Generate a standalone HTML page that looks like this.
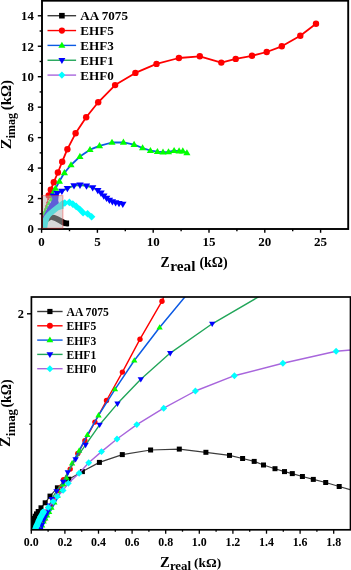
<!DOCTYPE html>
<html><head><meta charset="utf-8"><style>
html,body{margin:0;padding:0;background:#fff;width:351px;height:570px;overflow:hidden}
svg{display:block;will-change:transform}
</style></head><body>
<svg width="351" height="570" viewBox="0 0 351 570">
<defs>
<clipPath id="ct"><rect x="42" y="0.7" width="306.2" height="228.3"/></clipPath>
<clipPath id="cb"><rect x="31.4" y="297" width="319.1" height="232.79999999999995"/></clipPath>
</defs>
<rect width="100%" height="100%" fill="#fff"/>
<g clip-path="url(#ct)"><polygon fill="#000" points="47.5,216.5 48.1,215.6 51.1,214.5 54.8,214.9 58.5,216.4 62.2,218.6 66,220.5 68.6,221.5 68.6,226.4 66,226.2 62.2,225.2 58.5,223 54.8,220.9 51.1,219.8 48.5,221.5 47.5,222"/>
<rect x="63.5" y="220.5" width="5.6" height="5.6" fill="#000"/>
<polyline fill="none" stroke="#ff0000" stroke-width="0.9" stroke-linejoin="round" stroke-linecap="butt" points="42.6,228.5 42.8,222 43.5,216.5 44.3,212.6 45.2,209.3 46.2,205.9 47.2,202.5 48.2,199.2 48.9,195.4"/>
<circle cx="43.5" cy="216.5" r="1" fill="#ff0000"/>
<circle cx="44.3" cy="212.6" r="1" fill="#ff0000"/>
<circle cx="45.2" cy="209.3" r="1" fill="#ff0000"/>
<circle cx="46.2" cy="205.9" r="1" fill="#ff0000"/>
<circle cx="47.2" cy="202.5" r="1" fill="#ff0000"/>
<circle cx="48.2" cy="199.2" r="1" fill="#ff0000"/>
<polyline fill="none" stroke="#ff0000" stroke-width="1.8" stroke-linejoin="round" stroke-linecap="butt" points="48.7,195.4 50.8,189.8 53.8,182.2 57.9,172.5 62.2,161.7 67.4,149.2 75.6,133.3 86.2,117.2 98.2,102.3 115.1,85.1 135.4,72.9 156.5,63.9 178.9,58 199.8,56.3 221.3,62.6 235.7,58.9 252,55.8 266.7,52 281.8,46.3 300.3,35.7 316,23.8"/>
<circle cx="48.7" cy="195.4" r="3.2" fill="#ff0000"/>
<circle cx="50.8" cy="189.8" r="3.2" fill="#ff0000"/>
<circle cx="53.8" cy="182.2" r="3.2" fill="#ff0000"/>
<circle cx="57.9" cy="172.5" r="3.2" fill="#ff0000"/>
<circle cx="62.2" cy="161.7" r="3.2" fill="#ff0000"/>
<circle cx="67.4" cy="149.2" r="3.2" fill="#ff0000"/>
<circle cx="75.6" cy="133.3" r="3.2" fill="#ff0000"/>
<circle cx="86.2" cy="117.2" r="3.2" fill="#ff0000"/>
<circle cx="98.2" cy="102.3" r="3.2" fill="#ff0000"/>
<circle cx="115.1" cy="85.1" r="3.2" fill="#ff0000"/>
<circle cx="135.4" cy="72.9" r="3.2" fill="#ff0000"/>
<circle cx="156.5" cy="63.9" r="3.2" fill="#ff0000"/>
<circle cx="178.9" cy="58" r="3.2" fill="#ff0000"/>
<circle cx="199.8" cy="56.3" r="3.2" fill="#ff0000"/>
<circle cx="221.3" cy="62.6" r="3.2" fill="#ff0000"/>
<circle cx="235.7" cy="58.9" r="3.2" fill="#ff0000"/>
<circle cx="252" cy="55.8" r="3.2" fill="#ff0000"/>
<circle cx="266.7" cy="52" r="3.2" fill="#ff0000"/>
<circle cx="281.8" cy="46.3" r="3.2" fill="#ff0000"/>
<circle cx="300.3" cy="35.7" r="3.2" fill="#ff0000"/>
<circle cx="316" cy="23.8" r="3.2" fill="#ff0000"/>
<polyline fill="none" stroke="#0c5ae4" stroke-width="1.8" stroke-linejoin="round" stroke-linecap="butt" points="52.2,200.2 52.5,194.1 55.5,188.5 59.4,181.3 64.4,172.8 71,165 79.9,156.6 90,149.7 99.5,145.9 112,142.5 123.4,142.3 134.1,144.6 142.6,148 150.4,150.7 157.4,151.7 163,152.2 168.5,152 174.1,150.7 179.1,151.1 182.8,151.1 186.9,153"/>
<polygon points="44.3,210.86 41.7,215.28 46.9,215.28" fill="#00ff00"/>
<polygon points="45.5,207.96 42.9,212.38 48.1,212.38" fill="#00ff00"/>
<polygon points="47,204.56 44.4,208.98 49.6,208.98" fill="#00ff00"/>
<polygon points="48.8,200.86 46.2,205.28 51.4,205.28" fill="#00ff00"/>
<polygon points="51.4,196.44 48.4,201.54 54.4,201.54" fill="#00ff00"/>
<polygon points="52.5,190.31 48.9,196.43 56.1,196.43" fill="#00ff00"/>
<polygon points="55.5,184.71 51.9,190.83 59.1,190.83" fill="#00ff00"/>
<polygon points="59.4,177.51 55.8,183.63 63,183.63" fill="#00ff00"/>
<polygon points="64.4,169.01 60.8,175.13 68,175.13" fill="#00ff00"/>
<polygon points="71,161.21 67.4,167.33 74.6,167.33" fill="#00ff00"/>
<polygon points="79.9,152.81 76.3,158.93 83.5,158.93" fill="#00ff00"/>
<polygon points="90,145.91 86.4,152.03 93.6,152.03" fill="#00ff00"/>
<polygon points="99.5,142.11 95.9,148.23 103.1,148.23" fill="#00ff00"/>
<polygon points="112,138.71 108.4,144.83 115.6,144.83" fill="#00ff00"/>
<polygon points="123.4,138.51 119.8,144.63 127,144.63" fill="#00ff00"/>
<polygon points="134.1,140.81 130.5,146.93 137.7,146.93" fill="#00ff00"/>
<polygon points="142.6,144.21 139,150.33 146.2,150.33" fill="#00ff00"/>
<polygon points="150.4,146.91 146.8,153.03 154,153.03" fill="#00ff00"/>
<polygon points="157.4,147.91 153.8,154.03 161,154.03" fill="#00ff00"/>
<polygon points="163,148.41 159.4,154.53 166.6,154.53" fill="#00ff00"/>
<polygon points="168.5,148.21 164.9,154.33 172.1,154.33" fill="#00ff00"/>
<polygon points="174.1,146.91 170.5,153.03 177.7,153.03" fill="#00ff00"/>
<polygon points="179.1,147.31 175.5,153.43 182.7,153.43" fill="#00ff00"/>
<polygon points="182.8,147.31 179.2,153.43 186.4,153.43" fill="#00ff00"/>
<polygon points="186.9,149.21 183.3,155.33 190.5,155.33" fill="#00ff00"/>
<polygon fill="#0000ff" points="42.8,228.5 42.7,220 43.4,216.2 44.8,213.3 46.4,210 48.2,206.6 50.4,202.9 53.5,197.3 54.3,195.2 56.5,193.6 58.8,194.5 58.6,197 58.2,200.5 59,203.5 56,207 51,210.5 47.4,213 44.4,216.5 43.5,220 43.5,228.5"/>
<polyline fill="none" stroke="#22a65a" stroke-width="1.8" stroke-linejoin="round" stroke-linecap="butt" points="53.2,196 57.2,193.3 61.9,191.1 67.4,188.3 74,185.6 80,185 86.5,185.8 92.7,187.7 97.8,190.3 101,193 103.8,195.8 106.6,198.2 109.4,200.2 112.4,201.7 115.6,202.7 119,203.4 122.8,204.1"/><polygon points="53.2,199.9 49.5,193.61 56.9,193.61" fill="#0000ff"/><polygon points="57.2,197.2 53.5,190.91 60.9,190.91" fill="#0000ff"/><polygon points="61.9,195 58.2,188.71 65.6,188.71" fill="#0000ff"/><polygon points="67.4,192.2 63.7,185.91 71.1,185.91" fill="#0000ff"/><polygon points="74,189.5 70.3,183.21 77.7,183.21" fill="#0000ff"/><polygon points="80,188.9 76.3,182.61 83.7,182.61" fill="#0000ff"/><polygon points="86.5,189.7 82.8,183.41 90.2,183.41" fill="#0000ff"/><polygon points="92.7,191.6 89,185.31 96.4,185.31" fill="#0000ff"/><polygon points="97.8,194.2 94.1,187.91 101.5,187.91" fill="#0000ff"/><polygon points="101,196.9 97.3,190.61 104.7,190.61" fill="#0000ff"/><polygon points="103.8,199.7 100.1,193.41 107.5,193.41" fill="#0000ff"/><polygon points="106.6,202.1 102.9,195.81 110.3,195.81" fill="#0000ff"/><polygon points="109.4,204.1 105.7,197.81 113.1,197.81" fill="#0000ff"/><polygon points="112.4,205.6 108.7,199.31 116.1,199.31" fill="#0000ff"/><polygon points="115.6,206.6 111.9,200.31 119.3,200.31" fill="#0000ff"/><polygon points="119,207.3 115.3,201.01 122.7,201.01" fill="#0000ff"/><polygon points="122.8,208 119.1,201.71 126.5,201.71" fill="#0000ff"/>
<polygon fill="#00ffff" points="42.6,229 42.4,223.6 43,218.4 44.6,215.5 47.8,212 51.5,208.8 55.3,205.8 59,203 62.5,200.4 63.5,200.1 63.5,208.7 62.2,208.9 58.5,210.3 54.8,213.2 51.1,216.2 49.5,218.6 48.2,222.1 47.5,225.9 47.2,229"/>
<polyline fill="none" stroke="#a866dc" stroke-width="1.8" stroke-linejoin="round" stroke-linecap="butt" points="62.2,204 64.8,203 69.4,202.4 72.8,204.1 76.2,206.4 79.7,209.2 83.1,212.7 87.6,213.8 91.6,216.7"/><polygon points="62.2,200.2 66,204 62.2,207.8 58.4,204" fill="#00ffff"/><polygon points="64.8,199.2 68.6,203 64.8,206.8 61,203" fill="#00ffff"/><polygon points="69.4,198.6 73.2,202.4 69.4,206.2 65.6,202.4" fill="#00ffff"/><polygon points="72.8,200.3 76.6,204.1 72.8,207.9 69,204.1" fill="#00ffff"/><polygon points="76.2,202.6 80,206.4 76.2,210.2 72.4,206.4" fill="#00ffff"/><polygon points="79.7,205.4 83.5,209.2 79.7,213 75.9,209.2" fill="#00ffff"/><polygon points="83.1,208.9 86.9,212.7 83.1,216.5 79.3,212.7" fill="#00ffff"/><polygon points="87.6,210 91.4,213.8 87.6,217.6 83.8,213.8" fill="#00ffff"/><polygon points="91.6,212.9 95.4,216.7 91.6,220.5 87.8,216.7" fill="#00ffff"/></g>
<rect x="42" y="195.6" width="20.9" height="32.6" fill="rgb(180,180,180)" fill-opacity="0.52"/>
<rect x="42" y="0.7" width="306.2" height="228.3" fill="none" stroke="#000" stroke-width="1.9"/>
<rect x="42" y="195.6" width="20.9" height="32.6" fill="none" stroke="#ff3030" stroke-opacity="0.45" stroke-width="1"/>
<line x1="37.8" y1="229" x2="42" y2="229" stroke="#000" stroke-width="1.4"/>
<text x="33.8" y="233.3" text-anchor="end" font-size="12.8" font-weight="bold" font-family='"Liberation Serif", serif'>0</text>
<line x1="39.6" y1="213.77" x2="42" y2="213.77" stroke="#000" stroke-width="1.4"/>
<line x1="37.8" y1="198.54" x2="42" y2="198.54" stroke="#000" stroke-width="1.4"/>
<text x="33.8" y="202.84" text-anchor="end" font-size="12.8" font-weight="bold" font-family='"Liberation Serif", serif'>2</text>
<line x1="39.6" y1="183.31" x2="42" y2="183.31" stroke="#000" stroke-width="1.4"/>
<line x1="37.8" y1="168.08" x2="42" y2="168.08" stroke="#000" stroke-width="1.4"/>
<text x="33.8" y="172.38" text-anchor="end" font-size="12.8" font-weight="bold" font-family='"Liberation Serif", serif'>4</text>
<line x1="39.6" y1="152.85" x2="42" y2="152.85" stroke="#000" stroke-width="1.4"/>
<line x1="37.8" y1="137.62" x2="42" y2="137.62" stroke="#000" stroke-width="1.4"/>
<text x="33.8" y="141.92" text-anchor="end" font-size="12.8" font-weight="bold" font-family='"Liberation Serif", serif'>6</text>
<line x1="39.6" y1="122.39" x2="42" y2="122.39" stroke="#000" stroke-width="1.4"/>
<line x1="37.8" y1="107.16" x2="42" y2="107.16" stroke="#000" stroke-width="1.4"/>
<text x="33.8" y="111.46" text-anchor="end" font-size="12.8" font-weight="bold" font-family='"Liberation Serif", serif'>8</text>
<line x1="39.6" y1="91.93" x2="42" y2="91.93" stroke="#000" stroke-width="1.4"/>
<line x1="37.8" y1="76.7" x2="42" y2="76.7" stroke="#000" stroke-width="1.4"/>
<text x="33.8" y="81" text-anchor="end" font-size="12.8" font-weight="bold" font-family='"Liberation Serif", serif'>10</text>
<line x1="39.6" y1="61.47" x2="42" y2="61.47" stroke="#000" stroke-width="1.4"/>
<line x1="37.8" y1="46.24" x2="42" y2="46.24" stroke="#000" stroke-width="1.4"/>
<text x="33.8" y="50.54" text-anchor="end" font-size="12.8" font-weight="bold" font-family='"Liberation Serif", serif'>12</text>
<line x1="39.6" y1="31.01" x2="42" y2="31.01" stroke="#000" stroke-width="1.4"/>
<line x1="37.8" y1="15.78" x2="42" y2="15.78" stroke="#000" stroke-width="1.4"/>
<text x="33.8" y="20.08" text-anchor="end" font-size="12.8" font-weight="bold" font-family='"Liberation Serif", serif'>14</text>
<line x1="41.6" y1="229" x2="41.6" y2="232.8" stroke="#000" stroke-width="1.4"/>
<text x="41.6" y="245.9" text-anchor="middle" font-size="13" font-weight="bold" font-family='"Liberation Serif", serif'>0</text>
<line x1="69.5" y1="229" x2="69.5" y2="231.2" stroke="#000" stroke-width="1.4"/>
<line x1="97.4" y1="229" x2="97.4" y2="232.8" stroke="#000" stroke-width="1.4"/>
<text x="97.4" y="245.9" text-anchor="middle" font-size="13" font-weight="bold" font-family='"Liberation Serif", serif'>5</text>
<line x1="125.3" y1="229" x2="125.3" y2="231.2" stroke="#000" stroke-width="1.4"/>
<line x1="153.2" y1="229" x2="153.2" y2="232.8" stroke="#000" stroke-width="1.4"/>
<text x="153.2" y="245.9" text-anchor="middle" font-size="13" font-weight="bold" font-family='"Liberation Serif", serif'>10</text>
<line x1="181.1" y1="229" x2="181.1" y2="231.2" stroke="#000" stroke-width="1.4"/>
<line x1="209" y1="229" x2="209" y2="232.8" stroke="#000" stroke-width="1.4"/>
<text x="209" y="245.9" text-anchor="middle" font-size="13" font-weight="bold" font-family='"Liberation Serif", serif'>15</text>
<line x1="236.9" y1="229" x2="236.9" y2="231.2" stroke="#000" stroke-width="1.4"/>
<line x1="264.8" y1="229" x2="264.8" y2="232.8" stroke="#000" stroke-width="1.4"/>
<text x="264.8" y="245.9" text-anchor="middle" font-size="13" font-weight="bold" font-family='"Liberation Serif", serif'>20</text>
<line x1="292.7" y1="229" x2="292.7" y2="231.2" stroke="#000" stroke-width="1.4"/>
<line x1="320.6" y1="229" x2="320.6" y2="232.8" stroke="#000" stroke-width="1.4"/>
<text x="320.6" y="245.9" text-anchor="middle" font-size="13" font-weight="bold" font-family='"Liberation Serif", serif'>25</text>
<line x1="47.5" y1="15.7" x2="76.1" y2="15.7" stroke="#3c3c3c" stroke-width="1.4"/>
<rect x="59.1" y="12.9" width="5.6" height="5.6" fill="#000"/>
<text x="80.3" y="20.3" font-size="13.1" font-weight="bold" font-family='"Liberation Serif", serif'>AA 7075</text>
<line x1="47.5" y1="30.55" x2="76.1" y2="30.55" stroke="#ff0000" stroke-width="1.4"/>
<circle cx="61.9" cy="30.55" r="3.1" fill="#ff0000"/>
<text x="80.3" y="35.15" font-size="13.1" font-weight="bold" font-family='"Liberation Serif", serif'>EHF5</text>
<line x1="47.5" y1="45.4" x2="76.1" y2="45.4" stroke="#0c5ae4" stroke-width="1.4"/>
<polygon points="61.9,41.71 58.4,47.66 65.4,47.66" fill="#00ff00"/>
<text x="80.3" y="50" font-size="13.1" font-weight="bold" font-family='"Liberation Serif", serif'>EHF3</text>
<line x1="47.5" y1="60.25" x2="76.1" y2="60.25" stroke="#22a65a" stroke-width="1.4"/>
<polygon points="61.9,63.94 58.4,57.99 65.4,57.99" fill="#0000ff"/>
<text x="80.3" y="64.85" font-size="13.1" font-weight="bold" font-family='"Liberation Serif", serif'>EHF1</text>
<line x1="47.5" y1="75.1" x2="76.1" y2="75.1" stroke="#a866dc" stroke-width="1.4"/>
<polygon points="61.9,71.5 65.5,75.1 61.9,78.7 58.3,75.1" fill="#00ffff"/>
<text x="80.3" y="79.7" font-size="13.1" font-weight="bold" font-family='"Liberation Serif", serif'>EHF0</text>
<text x="160.5" y="267.2" font-size="13.8" font-weight="bold" font-family='"Liberation Serif", serif'>Z</text><text x="170.3" y="270.6" font-size="14" font-weight="bold" font-family='"Liberation Serif", serif' textLength="25.2" lengthAdjust="spacingAndGlyphs">real</text><text x="199.4" y="267.2" font-size="13.9" font-weight="bold" font-family='"Liberation Serif", serif' textLength="28.4" lengthAdjust="spacingAndGlyphs">(k&#937;)</text>
<g transform="rotate(-90)"><text x="-149.3" y="10.6" font-size="14.6" font-weight="bold" font-family='"Liberation Serif", serif' textLength="10.8" lengthAdjust="spacingAndGlyphs">Z</text><text x="-138.3" y="15" font-size="12" font-weight="bold" font-family='"Liberation Serif", serif'>imag</text><text x="-110.3" y="11.2" font-size="15" font-weight="bold" font-family='"Liberation Serif", serif'>(k&#937;)</text></g>
<g clip-path="url(#cb)"><polyline fill="none" stroke="#3c3c3c" stroke-width="1.2" stroke-linejoin="round" stroke-linecap="butt" points="31.7,529.4 31.9,527.3 32.3,525.1 32.8,522.9 33.5,520.6 34.3,518.4 35.2,516.2 36.5,513.9 38.2,511.5 41,507.8 45.2,502.8 50,496.1 57.4,487.8 68.8,479.2 82.4,471.6 99.4,462.4 122.3,454.6 150.6,450 179.3,449.1 205.9,452.3 229.5,455.4 242.6,458.5 254.2,461.4 263.5,465 275,468.7 284.5,471.6 292.3,473.6 302.4,476.5 313.3,479.4 325.7,482.5 339.2,486.5 351,489.8"/><rect x="29.2" y="526.9" width="5" height="5" fill="#000"/><rect x="29.4" y="524.8" width="5" height="5" fill="#000"/><rect x="29.8" y="522.6" width="5" height="5" fill="#000"/><rect x="30.3" y="520.4" width="5" height="5" fill="#000"/><rect x="31" y="518.1" width="5" height="5" fill="#000"/><rect x="31.8" y="515.9" width="5" height="5" fill="#000"/><rect x="32.7" y="513.7" width="5" height="5" fill="#000"/><rect x="34" y="511.4" width="5" height="5" fill="#000"/><rect x="35.7" y="509" width="5" height="5" fill="#000"/><rect x="38.5" y="505.3" width="5" height="5" fill="#000"/><rect x="42.7" y="500.3" width="5" height="5" fill="#000"/><rect x="47.5" y="493.6" width="5" height="5" fill="#000"/><rect x="54.9" y="485.3" width="5" height="5" fill="#000"/><rect x="66.3" y="476.7" width="5" height="5" fill="#000"/><rect x="79.9" y="469.1" width="5" height="5" fill="#000"/><rect x="96.9" y="459.9" width="5" height="5" fill="#000"/><rect x="119.8" y="452.1" width="5" height="5" fill="#000"/><rect x="148.1" y="447.5" width="5" height="5" fill="#000"/><rect x="176.8" y="446.6" width="5" height="5" fill="#000"/><rect x="203.4" y="449.8" width="5" height="5" fill="#000"/><rect x="227" y="452.9" width="5" height="5" fill="#000"/><rect x="240.1" y="456" width="5" height="5" fill="#000"/><rect x="251.7" y="458.9" width="5" height="5" fill="#000"/><rect x="261" y="462.5" width="5" height="5" fill="#000"/><rect x="272.5" y="466.2" width="5" height="5" fill="#000"/><rect x="282" y="469.1" width="5" height="5" fill="#000"/><rect x="289.8" y="471.1" width="5" height="5" fill="#000"/><rect x="299.9" y="474" width="5" height="5" fill="#000"/><rect x="310.8" y="476.9" width="5" height="5" fill="#000"/><rect x="323.2" y="480" width="5" height="5" fill="#000"/><rect x="336.7" y="484" width="5" height="5" fill="#000"/>
<polyline fill="none" stroke="#ff0000" stroke-width="1.4" stroke-linejoin="round" stroke-linecap="butt" points="41.5,530 44.8,520 48.3,512 51.5,505 54.5,498 57.8,491.5 60.5,486.6 63.5,479.8 70.2,469.1 77.8,453.5 84.9,440.7 94.9,422.1 106.5,400.5 122.4,372.1 140,339.2 162,301.2 164.5,295"/>
<circle cx="41.5" cy="530" r="2" fill="#ff0000"/>
<circle cx="44.8" cy="520" r="2" fill="#ff0000"/>
<circle cx="48.3" cy="512" r="2" fill="#ff0000"/>
<circle cx="51.5" cy="505" r="2" fill="#ff0000"/>
<circle cx="54.5" cy="498" r="2" fill="#ff0000"/>
<circle cx="57.8" cy="491.5" r="2" fill="#ff0000"/>
<circle cx="60.5" cy="486.6" r="2" fill="#ff0000"/>
<circle cx="63.5" cy="479.8" r="2.7" fill="#ff0000"/>
<circle cx="70.2" cy="469.1" r="2.7" fill="#ff0000"/>
<circle cx="77.8" cy="453.5" r="2.7" fill="#ff0000"/>
<circle cx="84.9" cy="440.7" r="2.7" fill="#ff0000"/>
<circle cx="94.9" cy="422.1" r="2.7" fill="#ff0000"/>
<circle cx="106.5" cy="400.5" r="2.7" fill="#ff0000"/>
<circle cx="122.4" cy="372.1" r="2.7" fill="#ff0000"/>
<circle cx="140" cy="339.2" r="2.7" fill="#ff0000"/>
<circle cx="162" cy="301.2" r="2.7" fill="#ff0000"/>
<polyline fill="none" stroke="#0c5ae4" stroke-width="1.5" stroke-linejoin="round" stroke-linecap="butt" points="41.3,530 42.8,526 44.3,522 46,519 47.8,516 49.8,512.5 52.1,508.2 55,502.8 58.2,496.5 60.8,491.2 63.5,484.5 66.4,477.7 72.1,463.4 79.2,450.6 87.4,434.9 98.5,415.4 115,389.3 134.3,360.5 159.6,327.5 186.5,295"/>
<polygon points="41.3,527.37 38.8,531.62 43.8,531.62" fill="#00ff00"/>
<polygon points="42.8,523.37 40.3,527.62 45.3,527.62" fill="#00ff00"/>
<polygon points="44.3,519.37 41.8,523.62 46.8,523.62" fill="#00ff00"/>
<polygon points="46,516.37 43.5,520.62 48.5,520.62" fill="#00ff00"/>
<polygon points="47.8,513.37 45.3,517.62 50.3,517.62" fill="#00ff00"/>
<polygon points="49.8,509.87 47.3,514.12 52.3,514.12" fill="#00ff00"/>
<polygon points="52.1,505.56 49.6,509.81 54.6,509.81" fill="#00ff00"/>
<polygon points="55,500.17 52.5,504.42 57.5,504.42" fill="#00ff00"/>
<polygon points="58.2,493.87 55.7,498.12 60.7,498.12" fill="#00ff00"/>
<polygon points="60.8,488.56 58.3,492.81 63.3,492.81" fill="#00ff00"/>
<polygon points="63.5,481.18 60.35,486.53 66.65,486.53" fill="#00ff00"/>
<polygon points="66.4,474.38 63.25,479.73 69.55,479.73" fill="#00ff00"/>
<polygon points="72.1,460.08 68.95,465.43 75.25,465.43" fill="#00ff00"/>
<polygon points="79.2,447.28 76.05,452.63 82.35,452.63" fill="#00ff00"/>
<polygon points="87.4,431.58 84.25,436.93 90.55,436.93" fill="#00ff00"/>
<polygon points="98.5,412.08 95.35,417.43 101.65,417.43" fill="#00ff00"/>
<polygon points="115,385.98 111.85,391.33 118.15,391.33" fill="#00ff00"/>
<polygon points="134.3,357.18 131.15,362.53 137.45,362.53" fill="#00ff00"/>
<polygon points="159.6,324.18 156.45,329.53 162.75,329.53" fill="#00ff00"/>
<polyline fill="none" stroke="#0000ff" stroke-width="3.6" stroke-linejoin="round" stroke-linecap="round" points="40.2,530 41.8,525 43.4,520 45.2,516.2 47.1,512.5 48.4,509.3"/>
<polyline fill="none" stroke="#22a65a" stroke-width="1.4" stroke-linejoin="round" stroke-linecap="butt" points="40.2,530 41.8,525 43.4,520 45.2,516.2 47.1,512.5 48.4,509.3 49.6,505.6 51.7,499 56.5,491.2 63.1,481.8 67.8,472.4 75.6,459.2 85.6,444.9 99.6,424.8 117.5,403.6 140.8,379.2 170.2,353.1 212.2,323.8 260,296"/><polygon points="40.2,533.32 37.05,527.97 43.35,527.97" fill="#0000ff"/><polygon points="41.8,528.32 38.65,522.97 44.95,522.97" fill="#0000ff"/><polygon points="43.4,523.32 40.25,517.97 46.55,517.97" fill="#0000ff"/><polygon points="45.2,519.52 42.05,514.17 48.35,514.17" fill="#0000ff"/><polygon points="47.1,515.82 43.95,510.47 50.25,510.47" fill="#0000ff"/><polygon points="48.4,512.62 45.25,507.27 51.55,507.27" fill="#0000ff"/><polygon points="49.6,508.92 46.45,503.57 52.75,503.57" fill="#0000ff"/><polygon points="51.7,502.32 48.55,496.97 54.85,496.97" fill="#0000ff"/><polygon points="56.5,494.52 53.35,489.17 59.65,489.17" fill="#0000ff"/><polygon points="63.1,485.12 59.95,479.77 66.25,479.77" fill="#0000ff"/><polygon points="67.8,475.72 64.65,470.37 70.95,470.37" fill="#0000ff"/><polygon points="75.6,462.52 72.45,457.17 78.75,457.17" fill="#0000ff"/><polygon points="85.6,448.22 82.45,442.87 88.75,442.87" fill="#0000ff"/><polygon points="99.6,428.12 96.45,422.77 102.75,422.77" fill="#0000ff"/><polygon points="117.5,406.92 114.35,401.57 120.65,401.57" fill="#0000ff"/><polygon points="140.8,382.52 137.65,377.17 143.95,377.17" fill="#0000ff"/><polygon points="170.2,356.42 167.05,351.07 173.35,351.07" fill="#0000ff"/><polygon points="212.2,327.12 209.05,321.77 215.35,321.77" fill="#0000ff"/>
<polyline fill="none" stroke="#00ffff" stroke-width="6.0" stroke-linejoin="round" stroke-linecap="round" points="34.8,530 36.9,525.3 39,520.5 40.9,516.4 43.5,511.9"/>
<polyline fill="none" stroke="#a866dc" stroke-width="1.4" stroke-linejoin="round" stroke-linecap="butt" points="34.8,530 36.9,525.3 39,520.5 40.9,516.4 43.5,511.9 48.3,507.4 53.1,501.6 57.3,496.4 63.1,490.4 68.3,483.2 79.1,473.3 88.7,462.7 101.5,451.6 117,439 136.8,424.6 163.7,408.2 195.4,391 234.4,375.7 282.9,363.3 336.1,351.3 351,350"/><polygon points="34.8,526.55 38.25,530 34.8,533.45 31.35,530" fill="#00ffff"/><polygon points="36.9,521.85 40.35,525.3 36.9,528.75 33.45,525.3" fill="#00ffff"/><polygon points="39,517.05 42.45,520.5 39,523.95 35.55,520.5" fill="#00ffff"/><polygon points="40.9,512.95 44.35,516.4 40.9,519.85 37.45,516.4" fill="#00ffff"/><polygon points="43.5,508.45 46.95,511.9 43.5,515.35 40.05,511.9" fill="#00ffff"/><polygon points="48.3,503.95 51.75,507.4 48.3,510.85 44.85,507.4" fill="#00ffff"/><polygon points="53.1,498.15 56.55,501.6 53.1,505.05 49.65,501.6" fill="#00ffff"/><polygon points="57.3,492.95 60.75,496.4 57.3,499.85 53.85,496.4" fill="#00ffff"/><polygon points="63.1,486.95 66.55,490.4 63.1,493.85 59.65,490.4" fill="#00ffff"/><polygon points="68.3,479.75 71.75,483.2 68.3,486.65 64.85,483.2" fill="#00ffff"/><polygon points="79.1,469.85 82.55,473.3 79.1,476.75 75.65,473.3" fill="#00ffff"/><polygon points="88.7,459.25 92.15,462.7 88.7,466.15 85.25,462.7" fill="#00ffff"/><polygon points="101.5,448.15 104.95,451.6 101.5,455.05 98.05,451.6" fill="#00ffff"/><polygon points="117,435.55 120.45,439 117,442.45 113.55,439" fill="#00ffff"/><polygon points="136.8,421.15 140.25,424.6 136.8,428.05 133.35,424.6" fill="#00ffff"/><polygon points="163.7,404.75 167.15,408.2 163.7,411.65 160.25,408.2" fill="#00ffff"/><polygon points="195.4,387.55 198.85,391 195.4,394.45 191.95,391" fill="#00ffff"/><polygon points="234.4,372.25 237.85,375.7 234.4,379.15 230.95,375.7" fill="#00ffff"/><polygon points="282.9,359.85 286.35,363.3 282.9,366.75 279.45,363.3" fill="#00ffff"/><polygon points="336.1,347.85 339.55,351.3 336.1,354.75 332.65,351.3" fill="#00ffff"/></g>
<rect x="31.4" y="297" width="319.1" height="232.79999999999995" fill="none" stroke="#000" stroke-width="1.7"/>
<line x1="31.3" y1="529.8" x2="31.3" y2="533.7" stroke="#000" stroke-width="1.3"/>
<text x="31.3" y="546.3" text-anchor="middle" font-size="11.9" font-weight="bold" font-family='"Liberation Serif", serif'>0.0</text>
<line x1="48.1" y1="529.8" x2="48.1" y2="531.7" stroke="#000" stroke-width="1.3"/>
<line x1="64.9" y1="529.8" x2="64.9" y2="533.7" stroke="#000" stroke-width="1.3"/>
<text x="64.9" y="546.3" text-anchor="middle" font-size="11.9" font-weight="bold" font-family='"Liberation Serif", serif'>0.2</text>
<line x1="81.7" y1="529.8" x2="81.7" y2="531.7" stroke="#000" stroke-width="1.3"/>
<line x1="98.5" y1="529.8" x2="98.5" y2="533.7" stroke="#000" stroke-width="1.3"/>
<text x="98.5" y="546.3" text-anchor="middle" font-size="11.9" font-weight="bold" font-family='"Liberation Serif", serif'>0.4</text>
<line x1="115.3" y1="529.8" x2="115.3" y2="531.7" stroke="#000" stroke-width="1.3"/>
<line x1="132.1" y1="529.8" x2="132.1" y2="533.7" stroke="#000" stroke-width="1.3"/>
<text x="132.1" y="546.3" text-anchor="middle" font-size="11.9" font-weight="bold" font-family='"Liberation Serif", serif'>0.6</text>
<line x1="148.9" y1="529.8" x2="148.9" y2="531.7" stroke="#000" stroke-width="1.3"/>
<line x1="165.7" y1="529.8" x2="165.7" y2="533.7" stroke="#000" stroke-width="1.3"/>
<text x="165.7" y="546.3" text-anchor="middle" font-size="11.9" font-weight="bold" font-family='"Liberation Serif", serif'>0.8</text>
<line x1="182.5" y1="529.8" x2="182.5" y2="531.7" stroke="#000" stroke-width="1.3"/>
<line x1="199.3" y1="529.8" x2="199.3" y2="533.7" stroke="#000" stroke-width="1.3"/>
<text x="199.3" y="546.3" text-anchor="middle" font-size="11.9" font-weight="bold" font-family='"Liberation Serif", serif'>1.0</text>
<line x1="216.1" y1="529.8" x2="216.1" y2="531.7" stroke="#000" stroke-width="1.3"/>
<line x1="232.9" y1="529.8" x2="232.9" y2="533.7" stroke="#000" stroke-width="1.3"/>
<text x="232.9" y="546.3" text-anchor="middle" font-size="11.9" font-weight="bold" font-family='"Liberation Serif", serif'>1.2</text>
<line x1="249.7" y1="529.8" x2="249.7" y2="531.7" stroke="#000" stroke-width="1.3"/>
<line x1="266.5" y1="529.8" x2="266.5" y2="533.7" stroke="#000" stroke-width="1.3"/>
<text x="266.5" y="546.3" text-anchor="middle" font-size="11.9" font-weight="bold" font-family='"Liberation Serif", serif'>1.4</text>
<line x1="283.3" y1="529.8" x2="283.3" y2="531.7" stroke="#000" stroke-width="1.3"/>
<line x1="300.1" y1="529.8" x2="300.1" y2="533.7" stroke="#000" stroke-width="1.3"/>
<text x="300.1" y="546.3" text-anchor="middle" font-size="11.9" font-weight="bold" font-family='"Liberation Serif", serif'>1.6</text>
<line x1="316.9" y1="529.8" x2="316.9" y2="531.7" stroke="#000" stroke-width="1.3"/>
<line x1="333.7" y1="529.8" x2="333.7" y2="533.7" stroke="#000" stroke-width="1.3"/>
<text x="333.7" y="546.3" text-anchor="middle" font-size="11.9" font-weight="bold" font-family='"Liberation Serif", serif'>1.8</text>
<line x1="27" y1="313.8" x2="31.4" y2="313.8" stroke="#000" stroke-width="1.4"/>
<line x1="29.3" y1="424.2" x2="31.4" y2="424.2" stroke="#000" stroke-width="1.2"/>
<text x="24" y="318.1" text-anchor="end" font-size="12.4" font-weight="bold" font-family='"Liberation Serif", serif'>2</text>
<line x1="37.2" y1="311.5" x2="62.6" y2="311.5" stroke="#3c3c3c" stroke-width="1.4"/>
<rect x="47.3" y="308.9" width="5.2" height="5.2" fill="#000"/>
<text x="66.6" y="316" font-size="11.6" font-weight="bold" font-family='"Liberation Serif", serif'>AA 7075</text>
<line x1="37.2" y1="325.8" x2="62.6" y2="325.8" stroke="#ff0000" stroke-width="1.4"/>
<circle cx="49.9" cy="325.8" r="2.95" fill="#ff0000"/>
<text x="66.6" y="330.3" font-size="11.6" font-weight="bold" font-family='"Liberation Serif", serif'>EHF5</text>
<line x1="37.2" y1="340.1" x2="62.6" y2="340.1" stroke="#0c5ae4" stroke-width="1.4"/>
<polygon points="49.9,336.52 46.5,342.3 53.3,342.3" fill="#00ff00"/>
<text x="66.6" y="344.6" font-size="11.6" font-weight="bold" font-family='"Liberation Serif", serif'>EHF3</text>
<line x1="37.2" y1="354.4" x2="62.6" y2="354.4" stroke="#22a65a" stroke-width="1.4"/>
<polygon points="49.9,357.98 46.5,352.2 53.3,352.2" fill="#0000ff"/>
<text x="66.6" y="358.9" font-size="11.6" font-weight="bold" font-family='"Liberation Serif", serif'>EHF1</text>
<line x1="37.2" y1="368.7" x2="62.6" y2="368.7" stroke="#a866dc" stroke-width="1.4"/>
<polygon points="49.9,365.2 53.4,368.7 49.9,372.2 46.4,368.7" fill="#00ffff"/>
<text x="66.6" y="373.2" font-size="11.6" font-weight="bold" font-family='"Liberation Serif", serif'>EHF0</text>
<text x="160" y="567" font-size="13.8" font-weight="bold" font-family='"Liberation Serif", serif' textLength="9.9" lengthAdjust="spacingAndGlyphs">Z</text><text x="169.9" y="569.9" font-size="11.8" font-weight="bold" font-family='"Liberation Serif", serif' textLength="21.2" lengthAdjust="spacingAndGlyphs">real</text><text x="194" y="566.9" font-size="13.4" font-weight="bold" font-family='"Liberation Serif", serif'>(k&#937;)</text>
<g transform="rotate(-90)"><text x="-446.9" y="10.4" font-size="13.6" font-weight="bold" font-family='"Liberation Serif", serif' textLength="10.4" lengthAdjust="spacingAndGlyphs">Z</text><text x="-436.2" y="14.6" font-size="12.9" font-weight="bold" font-family='"Liberation Serif", serif'>imag</text><text x="-407.6" y="11" font-size="14" font-weight="bold" font-family='"Liberation Serif", serif'>(k&#937;)</text></g>
</svg>
</body></html>
